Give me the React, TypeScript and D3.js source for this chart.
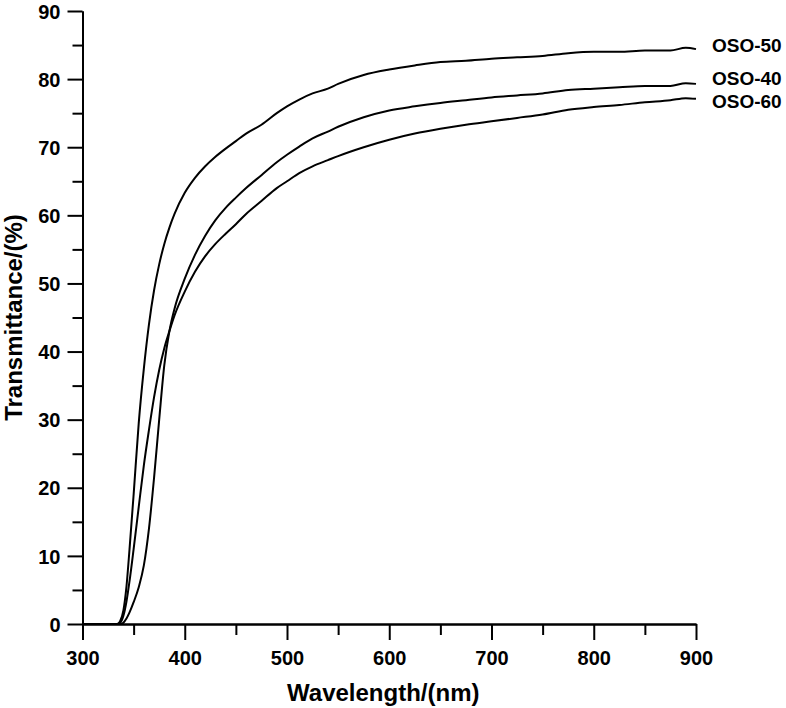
import React, { useEffect, useRef } from 'react';
import * as d3 from 'd3';

// wavelength grid (nm) shared by all three spectra
const wavelengths = [
  300, 320, 334, 337, 340, 343, 346, 350, 355, 360, 365, 370, 375, 380, 385, 390,
  400, 410, 420, 430, 440, 450, 460, 475, 490, 500, 512, 525, 540, 550, 575, 600,
  625, 650, 675, 700, 725, 750, 775, 800, 825, 850, 875, 890, 900,
];

const oso50 = [
  0, 0, 0, 0.5, 2, 5.5, 11, 19, 29.5, 37.5, 44, 49, 52.8, 55.8, 58.2, 60.2,
  63.3, 65.5, 67.2, 68.6, 69.8, 70.9, 72, 73.3, 75, 76, 77, 77.9, 78.6, 79.3, 80.6, 81.4,
  82, 82.5, 82.7, 83, 83.2, 83.4, 83.8, 84, 84, 84.2, 84.2, 84.6, 84.4,
];

const oso40 = [
  0, 0, 0, 0, 0.2, 0.8, 1.7, 3.2, 5.4, 8.6, 14, 21.5, 30, 38, 43, 46.3,
  50.7, 54.2, 57, 59.3, 61.1, 62.6, 64, 65.9, 67.8, 68.9, 70.1, 71.3, 72.3, 73, 74.4, 75.4,
  76, 76.5, 76.9, 77.3, 77.6, 77.9, 78.4, 78.6, 78.8, 79, 79, 79.4, 79.3,
];

const oso60 = [
  0, 0, 0, 0.2, 1.2, 3.3, 6.3, 11, 17.2, 23.3, 28.5, 33.3, 37.3, 40.5, 43, 45.3,
  48.8, 51.7, 54, 55.8, 57.3, 58.7, 60.2, 62.1, 64, 65, 66.2, 67.2, 68.1, 68.7, 70, 71.1,
  72, 72.7, 73.3, 73.8, 74.3, 74.8, 75.5, 75.9, 76.2, 76.6, 76.9, 77.2, 77.1,
];

const seriesNames = ['OSO-50', 'OSO-40', 'OSO-60'];
const seriesValues = [oso50, oso40, oso60];
// where the end labels sit, in % on the y scale
const labelLevels = [85, 80.2, 76.8];

const xMajor = [300, 400, 500, 600, 700, 800, 900];
const xMinor = [350, 450, 550, 650, 750, 850];
const yMajor = [0, 10, 20, 30, 40, 50, 60, 70, 80, 90];
const yMinor = [5, 15, 25, 35, 45, 55, 65, 75, 85];

const FONT = "'Liberation Sans', Arial, sans-serif";

const App = () => {
  const svgRef = useRef<SVGSVGElement | null>(null);

  useEffect(() => {
    const W = 786;
    const H = 708;
    const left = 82.5;
    const right = 696;
    const top = 11;
    const bottom = 624;

    const svg = d3.select(svgRef.current)
      .attr('width', W)
      .attr('height', H)
      .html('');

    svg.append('rect').attr('width', W).attr('height', H).attr('fill', '#fff');

    const x = d3.scaleLinear().domain([300, 900]).range([left, right]);
    const y = d3.scaleLinear().domain([0, 90]).range([bottom, top]);

    // y axis: minor then major ticks
    svg.append('g')
      .attr('transform', `translate(${left},0)`)
      .call(d3.axisLeft(y).tickValues(yMinor).tickSize(10).tickSizeOuter(0).tickFormat(() => ''));
    svg.append('g')
      .attr('transform', `translate(${left},0)`)
      .call(d3.axisLeft(y).tickValues(yMajor).tickSize(15).tickSizeOuter(0).tickPadding(7))
      .selectAll('text')
      .attr('dy', '0.36em');

    // x axis
    svg.append('g')
      .attr('transform', `translate(0,${bottom})`)
      .call(d3.axisBottom(x).tickValues(xMinor).tickSize(11).tickSizeOuter(0).tickFormat(() => ''));
    svg.append('g')
      .attr('transform', `translate(0,${bottom})`)
      .call(d3.axisBottom(x).tickValues(xMajor).tickSize(16).tickSizeOuter(0).tickPadding(11))
      .selectAll('text')
      .attr('dy', '0.71em');

    svg.selectAll('path.domain, .tick line')
      .attr('stroke', '#000')
      .attr('stroke-width', 2);
    svg.selectAll('.tick text')
      .attr('fill', '#000')
      .style('font-family', FONT)
      .style('font-weight', 'bold')
      .style('font-size', '20px');

    // spectra
    const line = d3.line<number>()
      .x((_, i) => x(wavelengths[i]))
      .y(d => y(d))
      .curve(d3.curveMonotoneX);

    seriesValues.forEach((vals, k) => {
      svg.append('path')
        .datum(vals)
        .attr('fill', 'none')
        .attr('stroke', '#000')
        .attr('stroke-width', 2)
        .attr('d', line);

      svg.append('text')
        .attr('x', x(900) + 16)
        .attr('y', y(labelLevels[k]))
        .attr('dy', '0.36em')
        .style('font-family', FONT)
        .style('font-weight', 'bold')
        .style('font-size', '19px')
        .text(seriesNames[k]);
    });

    // axis titles
    svg.append('text')
      .attr('x', (left + right) / 2 - 6)
      .attr('y', 701)
      .attr('text-anchor', 'middle')
      .style('font-family', FONT)
      .style('font-weight', 'bold')
      .style('font-size', '24px')
      .text('Wavelength/(nm)');

    svg.append('text')
      .attr('transform', `translate(22,${(top + bottom) / 2}) rotate(-90)`)
      .attr('text-anchor', 'middle')
      .style('font-family', FONT)
      .style('font-weight', 'bold')
      .style('font-size', '24px')
      .text('Transmittance/(%)');
  }, []);

  return (
    <svg
      ref={svgRef}
      style={{ position: 'absolute', left: 0, top: 0, display: 'block' }}
    ></svg>
  );
};

export default App;
